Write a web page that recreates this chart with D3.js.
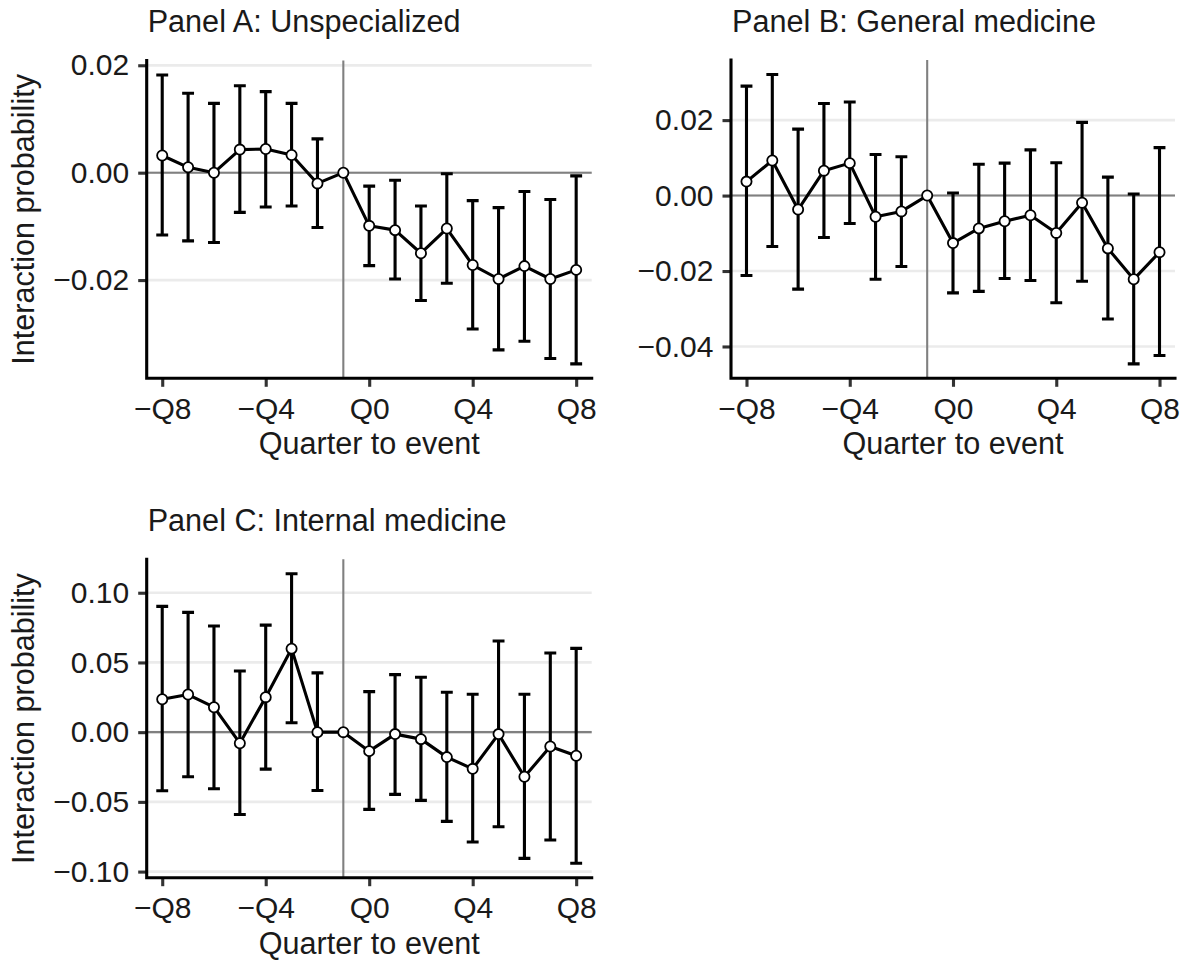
<!DOCTYPE html>
<html>
<head>
<meta charset="utf-8">
<script src="https://cdn.jsdelivr.net/npm/d3@7"></script>
<style>
  html, body { margin: 0; padding: 0; background: #ffffff; }
  svg { display: block; }
  text { font-family: "Liberation Sans", Arial, Helvetica, sans-serif; }
</style>
</head>
<body>
<svg id="chart" width="1185" height="964"></svg>
<script>
// Event-study estimates by quarter relative to the event (reference quarter: -1)
const quarters = [-8, -7, -6, -5, -4, -3, -2, -1, 0, 1, 2, 3, 4, 5, 6, 7, 8];
const xTickValues = [-8, -4, 0, 4, 8];
const xTickLabels = ["\u2212Q8", "\u2212Q4", "Q0", "Q4", "Q8"];

// Panel A: Unspecialized
const unspecEst = [0.0032, 0.0010, 0.0000, 0.0043, 0.0044, 0.0033, -0.0020, 0, -0.0099, -0.0107, -0.0150, -0.0104, -0.0172, -0.0198, -0.0174, -0.0198, -0.0181];
const unspecLow = [-0.0116, -0.0127, -0.0130, -0.0074, -0.0064, -0.0062, -0.0102, null, -0.0173, -0.0198, -0.0238, -0.0206, -0.0291, -0.0330, -0.0314, -0.0346, -0.0356];
const unspecHigh = [0.0182, 0.0148, 0.0129, 0.0162, 0.0151, 0.0129, 0.0063, null, -0.0025, -0.0014, -0.0062, -0.0002, -0.0052, -0.0065, -0.0035, -0.0050, -0.0006];
const unspecTicks = [-0.02, 0.00, 0.02];

// Panel B: General medicine
const generalEst = [0.0037, 0.0093, -0.0037, 0.0066, 0.0086, -0.0056, -0.0042, 0, -0.0126, -0.0087, -0.0068, -0.0052, -0.0099, -0.0019, -0.0140, -0.0222, -0.0150];
const generalLow = [-0.0212, -0.0135, -0.0248, -0.0111, -0.0074, -0.0222, -0.0188, null, -0.0258, -0.0254, -0.0220, -0.0225, -0.0284, -0.0227, -0.0327, -0.0446, -0.0424];
const generalHigh = [0.0290, 0.0321, 0.0176, 0.0244, 0.0248, 0.0109, 0.0103, null, 0.0007, 0.0083, 0.0086, 0.0121, 0.0087, 0.0194, 0.0049, 0.0004, 0.0127];
const generalTicks = [-0.04, -0.02, 0.00, 0.02];

// Panel C: Internal medicine
const internalEst = [0.0236, 0.0270, 0.0179, -0.0079, 0.0251, 0.0599, 0.0000, 0, -0.0136, -0.0014, -0.0050, -0.0179, -0.0263, -0.0014, -0.0320, -0.0103, -0.0169];
const internalLow = [-0.0420, -0.0320, -0.0406, -0.0590, -0.0265, 0.0067, -0.0418, null, -0.0554, -0.0446, -0.0489, -0.0640, -0.0788, -0.0678, -0.0905, -0.0773, -0.0940];
const internalHigh = [0.0902, 0.0859, 0.0761, 0.0439, 0.0768, 0.1136, 0.0425, null, 0.0291, 0.0413, 0.0394, 0.0286, 0.0272, 0.0654, 0.0272, 0.0568, 0.0601];
const internalTicks = [-0.10, -0.05, 0.00, 0.05, 0.10];

const panelTitles = ["Panel A: Unspecialized", "Panel B: General medicine", "Panel C: Internal medicine"];
const xAxisTitle = "Quarter to event";
const yAxisTitle = "Interaction probability";
const referenceQuarter = -1;

const panels = [
  { title: panelTitles[0], est: unspecEst, low: unspecLow, high: unspecHigh, ticks: unspecTicks,
    box: { left: 146.7, right: 591.7, top: 60.5, bottom: 378.3 }, yTitle: true },
  { title: panelTitles[1], est: generalEst, low: generalLow, high: generalHigh, ticks: generalTicks,
    box: { left: 731, right: 1175, top: 60, bottom: 378.3 }, yTitle: false },
  { title: panelTitles[2], est: internalEst, low: internalLow, high: internalHigh, ticks: internalTicks,
    box: { left: 146.7, right: 591.7, top: 559.3, bottom: 877.7 }, yTitle: true }
];

const svg = d3.select("#chart");
svg.append("rect").attr("width", 1185).attr("height", 964).attr("fill", "#ffffff");

const fmtY = v => {
  const s = d3.format(".2f")(Math.abs(v));
  return (v < -1e-9 ? "\u2212" : "") + s;
};

const capHalf = 0.23;   // half-width of error-bar caps, in quarters
const textColor = "#1a1a1a";
const tickFont = 30;
const titleFont = 30.6;
const strokeW = 3.1;

panels.forEach(p => {
  const b = p.box;
  const x = d3.scaleLinear().domain([-8.6, 8.6]).range([b.left, b.right]);

  // y range: data extent (incl. intervals) expanded by 5% each side
  const lows = p.low.filter(v => v !== null).concat(p.est);
  const highs = p.high.filter(v => v !== null).concat(p.est);
  const lo = d3.min(lows), hi = d3.max(highs);
  const pad = (hi - lo) * 0.05;
  const y = d3.scaleLinear().domain([lo - pad, hi + pad]).range([b.bottom, b.top]);

  const g = svg.append("g");

  // horizontal major gridlines
  g.selectAll("line.grid").data(p.ticks).enter().append("line")
    .attr("x1", b.left).attr("x2", b.right)
    .attr("y1", d => y(d)).attr("y2", d => y(d))
    .attr("stroke", "#ebebeb").attr("stroke-width", 2.7);

  // zero reference line and event marker
  g.append("line")
    .attr("x1", b.left).attr("x2", b.right)
    .attr("y1", y(0)).attr("y2", y(0))
    .attr("stroke", "#808080").attr("stroke-width", 2.1);
  g.append("line")
    .attr("x1", x(referenceQuarter)).attr("x2", x(referenceQuarter))
    .attr("y1", b.top).attr("y2", b.bottom)
    .attr("stroke", "#808080").attr("stroke-width", 2.1);

  const rows = quarters.map((q, i) => ({ q, est: p.est[i], low: p.low[i], high: p.high[i] }));
  const withCI = rows.filter(r => r.low !== null && r.high !== null);

  // error bars
  const eb = g.append("g").attr("stroke", "#000").attr("stroke-width", strokeW).attr("fill", "none");
  eb.selectAll("path").data(withCI).enter().append("path")
    .attr("d", r => {
      const xl = x(r.q - capHalf), xr = x(r.q + capHalf), xc = x(r.q);
      return `M${xl},${y(r.high)}H${xr}M${xc},${y(r.high)}V${y(r.low)}M${xl},${y(r.low)}H${xr}`;
    });

  // connecting line
  const line = d3.line().x(r => x(r.q)).y(r => y(r.est));
  g.append("path").datum(rows)
    .attr("d", line)
    .attr("fill", "none").attr("stroke", "#000").attr("stroke-width", strokeW)
    .attr("stroke-linejoin", "round");

  // points
  g.selectAll("circle").data(rows).enter().append("circle")
    .attr("cx", r => x(r.q)).attr("cy", r => y(r.est)).attr("r", 5.1)
    .attr("fill", "#fff").attr("stroke", "#000").attr("stroke-width", 1.8);

  // axes
  const yAxis = d3.axisLeft(y).tickValues(p.ticks).tickFormat(fmtY).tickSizeInner(8.5).tickSizeOuter(0).tickPadding(9);
  const yg = g.append("g").attr("transform", `translate(${b.left},0)`).call(yAxis);
  yg.select(".domain").remove();
  yg.selectAll(".tick line").attr("stroke", "#333").attr("stroke-width", strokeW);
  yg.selectAll(".tick text").attr("fill", textColor).style("font-size", tickFont + "px")
    .style("font-family", "'Liberation Sans', Arial, sans-serif");

  const xAxis = d3.axisBottom(x).tickValues(xTickValues)
    .tickFormat((d, i) => xTickLabels[i]).tickSizeInner(8.5).tickSizeOuter(0).tickPadding(11);
  const xg = g.append("g").attr("transform", `translate(0,${b.bottom})`).call(xAxis);
  xg.select(".domain").remove();
  xg.selectAll(".tick line").attr("stroke", "#333").attr("stroke-width", strokeW);
  xg.selectAll(".tick text").attr("fill", textColor).style("font-size", tickFont + "px")
    .style("font-family", "'Liberation Sans', Arial, sans-serif");

  // axis lines (L-shaped, classic theme)
  g.append("path")
    .attr("d", `M${b.left},${b.top}V${b.bottom}H${b.right}`)
    .attr("fill", "none").attr("stroke", "#000").attr("stroke-width", strokeW)
    .attr("stroke-linecap", "square");

  // titles
  g.append("text").attr("x", b.left + 1).attr("y", b.top - 28.5)
    .attr("fill", textColor).style("font-size", titleFont + "px").text(p.title);

  g.append("text").attr("x", (b.left + b.right) / 2).attr("y", b.bottom + 76)
    .attr("text-anchor", "middle").attr("fill", textColor).style("font-size", titleFont + "px").text(xAxisTitle);

  if (p.yTitle) {
    const cy = (b.top + b.bottom) / 2;
    g.append("text")
      .attr("transform", `translate(34,${cy}) rotate(-90)`)
      .attr("text-anchor", "middle").attr("fill", textColor).style("font-size", titleFont + "px").text(yAxisTitle);
  }
});
</script>
</body>
</html>
